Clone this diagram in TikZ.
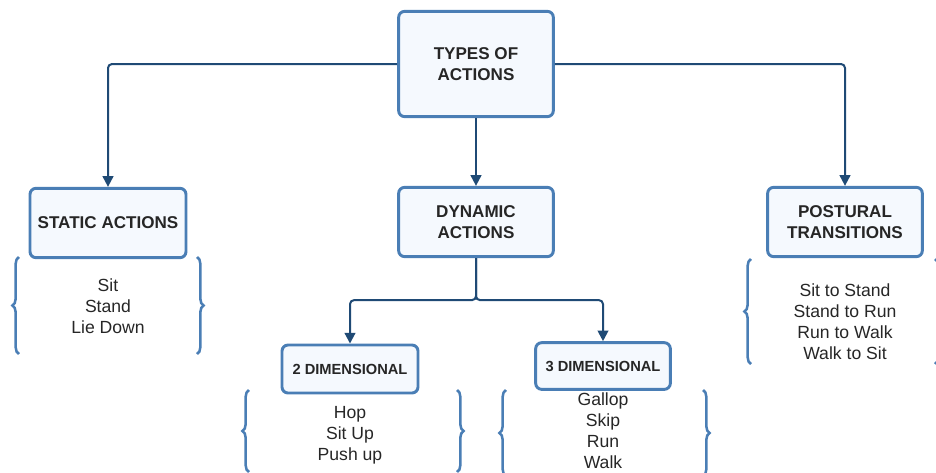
\documentclass[tikz,border=0pt]{standalone}
\usepackage{fontspec}
\setmainfont{Liberation Sans}
\usetikzlibrary{arrows.meta,decorations.pathreplacing}
\definecolor{boxblue}{HTML}{4A7EB5}
\definecolor{boxfill}{HTML}{F5F9FE}
\definecolor{linkblue}{HTML}{1F4A75}
\definecolor{txt}{HTML}{262626}
\newcommand{\gauche}[3]{\draw[brc] (#1,#3) -- (#1,#2)}
\newcommand{\droite}[3]{\draw[brc] (#1,#2) -- (#1,#3)}

\begin{document}
\begin{tikzpicture}[x=0.75pt,y=-0.75pt,
  boite/.style={draw=boxblue,fill=boxfill,line width=2.2pt,rounded corners=4.5pt,
    align=center,text=txt,inner sep=0pt,font=\bfseries\fontsize{12.8}{15.5}\selectfont},
  petite/.style={boite,font=\bfseries\fontsize{11}{13}\selectfont},
  liste/.style={align=center,text=txt,font=\fontsize{13.2}{15.75}\selectfont},
  lien/.style={draw=linkblue,line width=1.5pt,rounded corners=3pt,
    -{Triangle[length=8pt,width=8pt]}},
  brc/.style={draw=boxblue,line width=1.9pt,decorate,
    decoration={brace,amplitude=5pt}}]
\useasboundingbox (0,0) rectangle (936,472);
%
	\node[boite,minimum width=116pt,minimum height=79pt] (types) at (476,64) {TYPES OF\\ACTIONS};
%
	\node[boite,minimum width=117pt,minimum height=52pt] (static) at (108,223) {STATIC ACTIONS};
	\node[boite,minimum width=116pt,minimum height=52pt] (dynamic) at (476,222) {DYNAMIC\\ACTIONS};
	\node[boite,minimum width=116pt,minimum height=52pt] (postural) at (845,222) {POSTURAL\\TRANSITIONS};
%
	\node[petite,minimum width=102pt,minimum height=36pt] (dim2) at (350,369) {2 DIMENSIONAL};
	\node[petite,minimum width=101pt,minimum height=35pt] (dim3) at (603,366) {3 DIMENSIONAL};
%
	\draw[lien] (types.west) -| (static.north);
	\draw[lien] (types.east) -| (postural.north);
	\draw[lien] (types.south) -- (dynamic.north);
	\draw[lien] (dynamic.south) |- ++(-20,42) -| (dim2.north);
	\draw[lien] (dynamic.south) |- ++(20,42) -| (dim3.north);
%
	\node[liste] (staticlist) at (108,306) {Sit\\Stand\\Lie Down};
	\node[liste] (posturallist) at (845,322) {Sit to Stand\\Stand to Run\\Run to Walk\\Walk to Sit};
	\node[liste] (dim2list) at (350,435) {Hop\\Sit Up\\Push up};
	\node[liste] (dim3list) at (603,431) {Gallop\\Skip\\Run\\Walk};
%
	\gauche{19}{257}{354};
	\droite{197}{257}{354};
	\gauche{751}{259}{364};
	\droite{935}{259}{364};
	\gauche{249}{390}{472};
	\droite{457}{390}{472};
	\gauche{506}{390}{476};
	\droite{703}{390}{476};
%
\end{tikzpicture}
\end{document}
